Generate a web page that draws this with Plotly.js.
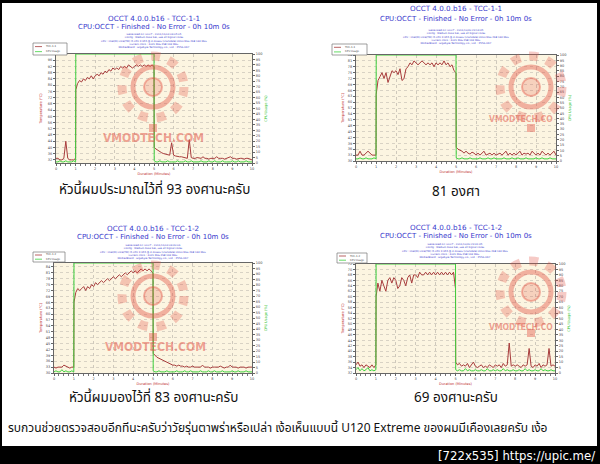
<!DOCTYPE html>
<html>
<head>
<meta charset="utf-8">
<script src="https://cdn.plot.ly/plotly-3.0.1.min.js"></script>
<style>
html,body{margin:0;padding:0;background:#fff;}
#chart{width:600px;height:464px;}
</style>
</head>
<body>
<div id="chart"></div>
<script>
// ---------------- DATA ----------------
const minutes = [0,0.1,0.2,0.3,0.4,0.5,0.6,0.7,0.8,0.9,1.0,
  1.01,
  1.1,1.2,1.3,1.4,1.5,1.6,1.7,1.8,1.9,2.0,
  2.1,2.2,2.3,2.4,2.5,2.6,2.7,2.8,2.9,3.0,
  3.1,3.2,3.3,3.4,3.5,3.6,3.7,3.8,3.9,4.0,
  4.1,4.2,4.3,4.4,4.5,4.6,4.7,4.8,4.9,5.0,
  5.01,
  5.1,5.2,5.3,5.4,5.5,5.6,5.7,5.8,5.9,6.0,
  6.1,6.2,6.3,6.4,6.5,6.6,6.7,6.8,6.9,7.0,
  7.1,7.2,7.3,7.4,7.5,7.6,7.7,7.8,7.9,8.0,
  8.1,8.2,8.3,8.4,8.5,8.6,8.7,8.8,8.9,9.0,
  9.1,9.2,9.3,9.4,9.5,9.6,9.7,9.8,9.9,10.0];

// Temperature (°C) – four runs
const tempRun1 = [33,33,32,32,33,44,33,32,32,32,33,
  77,
  81,83,82,84,83,85,84,86,84,86,
  87,86,88,87,89,88,90,89,91,90,
  91,90,92,91,92,91,93,92,91,92,
  93,92,93,92,93,92,93,92,93,92,
  40,
  39,38,37,36.5,36,35.5,35,35,43,35,
  34.5,34,34,34,33.5,33.5,33,45,33.5,33,
  33,33.5,33,33,34,33,33,32.5,33,33,
  33,34,33,33,33,32.5,33,33,34,33,
  33,32.5,33,33,33,32.5,33,33,32.5,32];

const tempRun2 = [33,33,35,33,33,34,35,34,33,33,33,
  64,
  71,73,75,72,75,70,73,76,75,76,
  74,77,71,72,77,78,80,79,81,80,
  79,80,81,80,79,80,79,80,78,80,
  79,80,79,81,79,80,78,79,76,75,
  37,
  36,35.5,35,34,35,34,33.5,34.5,34,33,
  34,33,34,35,33,33.5,34,33,34,33,
  33.5,34,33,34,35,33,34,33,34,33,
  34,35,33,34,33.5,34,33,35,34,33,
  34,33,35,34,33,34,33,34,35,33];

const tempRun3 = [33,32.5,33,33,33,34,33.5,33,32.5,33,33,
  66,
  71,73,72,73,74,72,74,73,75,74,
  76,75,76,77,76,77,78,77,78,79,
  78,79,80,79,80,81,80,81,82,81,
  82,81,82,83,82,83,82,83,82,81,
  40,
  39,38,37.5,37,36.5,36,35.5,35,34.5,34,
  34,33.5,34,33.5,33.5,33,33.5,33,33,33.5,
  33,33,33,33,34,33,33,33,32.5,33,
  33,33,33,33.5,33,32.5,33,33,34,33,
  33,33,32.5,33,33,33,32.5,33,33,33];

const tempRun4 = [35,36,34.5,35,34,35,34.5,34,35,34,35,
  60,
  65,62,66,64,62,66,67,65,67,66,
  63,64,67,66,64,67,68,65,68,68,
  67,69,68,68,69,68,69,68,69,68,
  69,68,69,68,69,68,69,68,69,63,
  36,
  35,35.5,34.5,35,34.5,35.5,34,35,36,34.5,
  34,34.5,35,34,34.5,34,35,34.5,34,35,
  34.5,35,34,35.5,34.5,35,43,34.5,35,34.5,
  35,34.5,34,35,34.5,35,41,34.5,34,35,
  34.5,35.5,34,35,34.5,35,41,34.5,35,34.5];

// CPU usage (%) – four runs
const cpuRun1 = [1,1,2,1,1,2,1,1,1,2,1,
  100,
  100,100,100,100,100,100,100,100,100,100,
  100,100,100,100,100,100,100,100,100,100,
  100,100,100,100,100,100,100,100,100,100,
  100,100,100,100,100,100,100,100,100,100,
  2,
  1,1,2,1,1,1,2,1,1,1,
  1,2,1,1,1,2,1,1,2,1,
  1,1,1,2,1,1,1,2,1,1,
  2,1,1,1,2,1,1,1,1,2,
  1,1,2,1,1,1,2,1,1,1];

const cpuRun2 = [2,2,3,2,2,3,2,2,2,3,2,
  100,
  100,100,100,100,100,100,100,100,100,100,
  100,100,100,100,100,100,100,100,100,100,
  100,100,100,100,100,100,100,100,100,100,
  100,100,100,100,100,100,100,100,100,100,
  3,
  2,2,3,2,2,2,3,2,2,2,
  2,3,2,2,2,3,2,2,3,2,
  2,2,2,3,2,2,2,3,2,2,
  3,2,2,2,3,2,2,2,2,3,
  2,2,3,2,2,2,3,2,2,2];

const cpuRun3 = [1,2,1,1,3,1,2,1,1,2,1,
  100,
  100,100,100,100,100,100,100,100,100,100,
  100,100,100,100,100,100,100,100,100,100,
  100,100,100,100,100,100,100,100,100,100,
  100,100,100,100,100,100,100,100,100,100,
  2,
  1,1,2,1,1,1,2,1,1,1,
  1,2,1,1,1,2,1,1,2,1,
  1,1,1,2,1,1,1,2,1,1,
  2,1,1,1,2,1,1,1,1,2,
  1,1,2,1,1,1,2,1,1,1];

const cpuRun4 = [3,5,2,4,2,3,5,2,3,2,3,
  100,
  100,100,100,100,100,100,100,100,100,100,
  100,100,100,100,100,100,100,100,100,100,
  100,100,100,100,100,100,100,100,100,100,
  100,100,100,100,100,100,100,100,100,100,
  3,
  2,3,2,2,4,2,3,2,2,3,
  2,2,3,2,2,4,2,2,3,2,
  3,2,2,4,2,3,2,2,3,2,
  2,3,2,2,4,2,3,2,2,3,
  2,2,4,2,3,2,2,3,2,2];

const sensorNames = ['TCC-1-1','TCC-1-1','TCC-1-2','TCC-1-2'];
const chartTitles = ['OCCT 4.0.0.b16 - TCC-1-1','OCCT 4.0.0.b16 - TCC-1-1','OCCT 4.0.0.b16 - TCC-1-2','OCCT 4.0.0.b16 - TCC-1-2'];
const chartSubtitle = 'CPU:OCCT - Finished - No Error - 0h 10m 0s';
const generatedOn = ['2011/11/03 09:05:05','2011/10/30 23:14:35','2011/11/03 09:30:06','2011/10/30 23:41:35'];
const captions = ['หัวนี้ผมประมาณไว้ที่ 93 องศานะครับ','81 องศา','หัวนี้ผมมองไว้ที่ 83 องศานะครับ','69 องศานะครับ'];
const footerText = 'รบกวนช่วยตรวจสอบอีกทีนะครับว่าวัยรุ่นตาพร่าหรือเปล่า เง้อเห็นแบบนี้ U120 Extreme ของผมมีเคืองเลยครับ เง้อ';
const sourceLabel = '[722x535] https://upic.me/';
const tempRuns = [tempRun1,tempRun2,tempRun3,tempRun4];
const cpuRuns = [cpuRun1,cpuRun2,cpuRun3,cpuRun4];

// ---------------- LAYOUT GEOMETRY (pixels) ----------------
const W = 600, H = 464;
const px = x => x / W;
const py = y => 1 - y / H;
const geom = [
  {l:56, r:252, t:54, b:163, range:[30,100], dtick:4, titleY:18, subY:27, infoY:41, legend:[33,67,43,55], mark:{cx:153,cy:87,tx:153,ty:138,size:12,text:'VMODTECH.COM'}, capY:190},
  {l:356,r:556, t:55, b:161, range:[30,84],  dtick:3, titleY:9,  subY:19, infoY:37, legend:[332,367,44,55], mark:{cx:531,cy:87,tx:521,ty:119,size:8.5,text:'VMODTECH.CO'}, capY:192},
  {l:54, r:252, t:263,b:373, range:[30,86],  dtick:3, titleY:228,subY:237,infoY:251.5, legend:[33,65,252,262], mark:{cx:153,cy:296,tx:155,ty:347,size:12,text:'VMODTECH.COM'}, capY:398},
  {l:356,r:555, t:264,b:373, range:[32,72],  dtick:2, titleY:227,subY:236,infoY:251, legend:[337,367,253,263], mark:{cx:531,cy:292,tx:521,ty:327,size:8.5,text:'VMODTECH.CO'}, capY:398}
];

const titleFont = "Verdana, 'DejaVu Sans', sans-serif";
const thaiFont = "Tahoma, 'Noto Sans Thai', 'Noto Sans', 'DejaVu Sans', sans-serif";
const tempColor = '#a83c3c';
const cpuColor = '#3fd23f';
const markColor = 'rgba(226,80,66,0.42)';

const traces = [];
const layout = {
  width: W, height: H,
  margin: {l:0, r:0, t:0, b:0},
  paper_bgcolor: '#ffffff',
  plot_bgcolor: '#fcf5e1',
  showlegend: false,
  font: {family: "'DejaVu Sans', sans-serif", size: 4, color: '#444'},
  shapes: [],
  annotations: []
};

geom.forEach((g, i) => {
  const n = i === 0 ? '' : String(i + 1);
  const xa = 'x' + n;
  const yaId = i === 0 ? 'y' : 'y' + (2 * i + 1);
  const ybId = 'y' + (2 * i + 2);
  const yaKey = i === 0 ? 'yaxis' : 'yaxis' + (2 * i + 1);
  const ybKey = 'yaxis' + (2 * i + 2);

  traces.push({x: minutes, y: tempRuns[i], xaxis: xa, yaxis: yaId, type: 'scatter', mode: 'lines',
    name: sensorNames[i], line: {color: tempColor, width: 1}});
  traces.push({x: minutes, y: cpuRuns[i], xaxis: xa, yaxis: ybId, type: 'scatter', mode: 'lines',
    name: 'CPU Usage', line: {color: cpuColor, width: 1}});

  layout['xaxis' + n] = {
    domain: [px(g.l), px(g.r)], anchor: yaId, range: [0, 10], dtick: 1, tick0: 0,
    showgrid: true, gridcolor: '#cfc9bc', griddash: 'dot', gridwidth: 1, zeroline: false,
    showline: true, linecolor: '#666', linewidth: 1, mirror: true,
    ticks: 'outside', ticklen: 2, tickcolor: '#666', tickfont: {size: 3.5, color: '#444'},
    minor: {dtick: 0.25, ticks: 'outside', ticklen: 1.5, tickcolor: '#777', showgrid: false},
    title: {text: 'Duration (Minutes)', font: {size: 3.5, color: '#c03030'}, standoff: 2},
    fixedrange: true
  };
  layout[yaKey] = {
    domain: [py(g.b), py(g.t)], anchor: xa, range: g.range, dtick: g.dtick, tick0: 0,
    showgrid: true, gridcolor: '#d8d2c4', griddash: 'dot', gridwidth: 1, zeroline: false,
    showline: true, linecolor: '#666', linewidth: 1, mirror: true,
    ticks: 'outside', ticklen: 2, tickcolor: '#666', tickfont: {size: 3.5, color: '#444'},
    title: {text: 'Temperature (°C)', font: {size: 3.5, color: '#c03030'}, standoff: 3},
    fixedrange: true
  };
  layout[ybKey] = {
    anchor: xa, overlaying: yaId, side: 'right', range: [0, 100], dtick: 5,
    showgrid: false, zeroline: false, showline: false,
    ticks: 'outside', ticklen: 2, tickcolor: '#666', tickfont: {size: 3.5, color: '#444'},
    title: {text: 'CPU Usage (%)', font: {size: 3.5, color: '#2fc22f'}, standoff: 3},
    fixedrange: true
  };

  const cx = (g.l + g.r) / 2;
  // titles
  layout.annotations.push({xref:'paper', yref:'paper', x:px(cx), y:py(g.titleY), text:chartTitles[i],
    showarrow:false, xanchor:'center', yanchor:'middle', font:{family:titleFont, size:7.2, color:'#3838cc'}});
  layout.annotations.push({xref:'paper', yref:'paper', x:px(cx), y:py(g.subY), text:chartSubtitle,
    showarrow:false, xanchor:'center', yanchor:'middle', font:{family:titleFont, size:7, color:'#3838cc'}});
  layout.annotations.push({xref:'paper', yref:'paper', x:px(cx), y:py(g.infoY),
    text:'Generated on: OCCT - ' + generatedOn[i] + '<br>Config : Medium Data Set, use all logical cores<br>CPU : Intel(R) Core(TM) i5 CPU X 655 @ 3.20GHz (Clarkdale) 3200 MHz FSB 133 MHz<br>Current clock : 4021 MHz FSB 193 MHz<br>MotherBoard : Gigabyte Technology Co., Ltd. : P55A-UD7',
    showarrow:false, xanchor:'center', yanchor:'middle', align:'center', font:{family:titleFont, size:2.5, color:'#3838cc'}});
  // caption
  layout.annotations.push({xref:'paper', yref:'paper', x:px(cx), y:py(g.capY), text:captions[i],
    showarrow:false, xanchor:'center', yanchor:'middle', font:{family:thaiFont, size:13.5, color:'#111'}});

  // legend box
  const L = g.legend;
  const r1 = L[2] + (L[3] - L[2]) * 0.3, r2 = L[2] + (L[3] - L[2]) * 0.72;
  layout.shapes.push({type:'rect', xref:'paper', yref:'paper', x0:px(L[0]), x1:px(L[1]), y0:py(L[3]), y1:py(L[2]),
    line:{color:'#777', width:0.7}, fillcolor:'#ffffff'});
  layout.shapes.push({type:'line', xref:'paper', yref:'paper', x0:px(L[0]+2), x1:px(L[0]+9), y0:py(r1), y1:py(r1), line:{color:tempColor, width:0.8}});
  layout.shapes.push({type:'line', xref:'paper', yref:'paper', x0:px(L[0]+2), x1:px(L[0]+9), y0:py(r2), y1:py(r2), line:{color:cpuColor, width:0.8}});
  layout.annotations.push({xref:'paper', yref:'paper', x:px(L[0]+11), y:py(r1), text:sensorNames[i], showarrow:false,
    xanchor:'left', yanchor:'middle', font:{size:2.6, color:'#444'}});
  layout.annotations.push({xref:'paper', yref:'paper', x:px(L[0]+11), y:py(r2), text:'CPU Usage', showarrow:false,
    xanchor:'left', yanchor:'middle', font:{size:2.6, color:'#444'}});

  // watermark emblem
  const m = g.mark;
  const circ = (rad, extra) => Object.assign({type:'circle', xref:'paper', yref:'paper', layer:'above',
    x0:px(m.cx-rad), x1:px(m.cx+rad), y0:py(m.cy+rad), y1:py(m.cy-rad)}, extra);
  layout.shapes.push(circ(31, {line:{color:'rgba(226,80,66,0.30)', width:9, dash:'dot'}, fillcolor:'rgba(0,0,0,0)'}));
  layout.shapes.push(circ(20, {line:{color:markColor, width:5}, fillcolor:'rgba(0,0,0,0)'}));
  layout.shapes.push(circ(9, {line:{color:markColor, width:2}, fillcolor:'rgba(226,80,66,0.22)'}));
  layout.shapes.push({type:'rect', xref:'paper', yref:'paper', layer:'above',
    x0:px(m.cx-4), x1:px(m.cx+4), y0:py(m.cy+45), y1:py(m.cy+37), line:{width:0}, fillcolor:markColor});
  layout.annotations.push({xref:'paper', yref:'paper', x:px(m.tx), y:py(m.ty), text:'<b>' + m.text + '</b>', showarrow:false,
    xanchor:'center', yanchor:'middle', font:{family:"'Liberation Sans Narrow', 'DejaVu Sans Condensed', sans-serif", size:m.size, color:'rgba(226,90,76,0.55)'}});
});

// footer text
layout.annotations.push({xref:'paper', yref:'paper', x:px(6), y:py(428), text:footerText, showarrow:false,
  xanchor:'left', yanchor:'middle', font:{family:thaiFont, size:12, color:'#111'}});

// black frame
const black = {type:'rect', xref:'paper', yref:'paper', layer:'above', line:{width:0}, fillcolor:'#000'};
layout.shapes.push(Object.assign({}, black, {x0:0, x1:1, y0:0, y1:py(446)}));
layout.shapes.push(Object.assign({}, black, {x0:0, x1:1, y0:py(3), y1:1}));
layout.shapes.push(Object.assign({}, black, {x0:0, x1:px(2), y0:0, y1:1}));
layout.shapes.push(Object.assign({}, black, {x0:px(597), x1:1, y0:0, y1:1}));
layout.annotations.push({xref:'paper', yref:'paper', x:px(597), y:py(455), text:sourceLabel, showarrow:false,
  xanchor:'right', yanchor:'middle', font:{family:"'Liberation Sans Narrow', 'DejaVu Sans Condensed', sans-serif", size:13, color:'#ffffff'}});

Plotly.newPlot('chart', traces, layout, {staticPlot: true, displayModeBar: false});
</script>
</body>
</html>
